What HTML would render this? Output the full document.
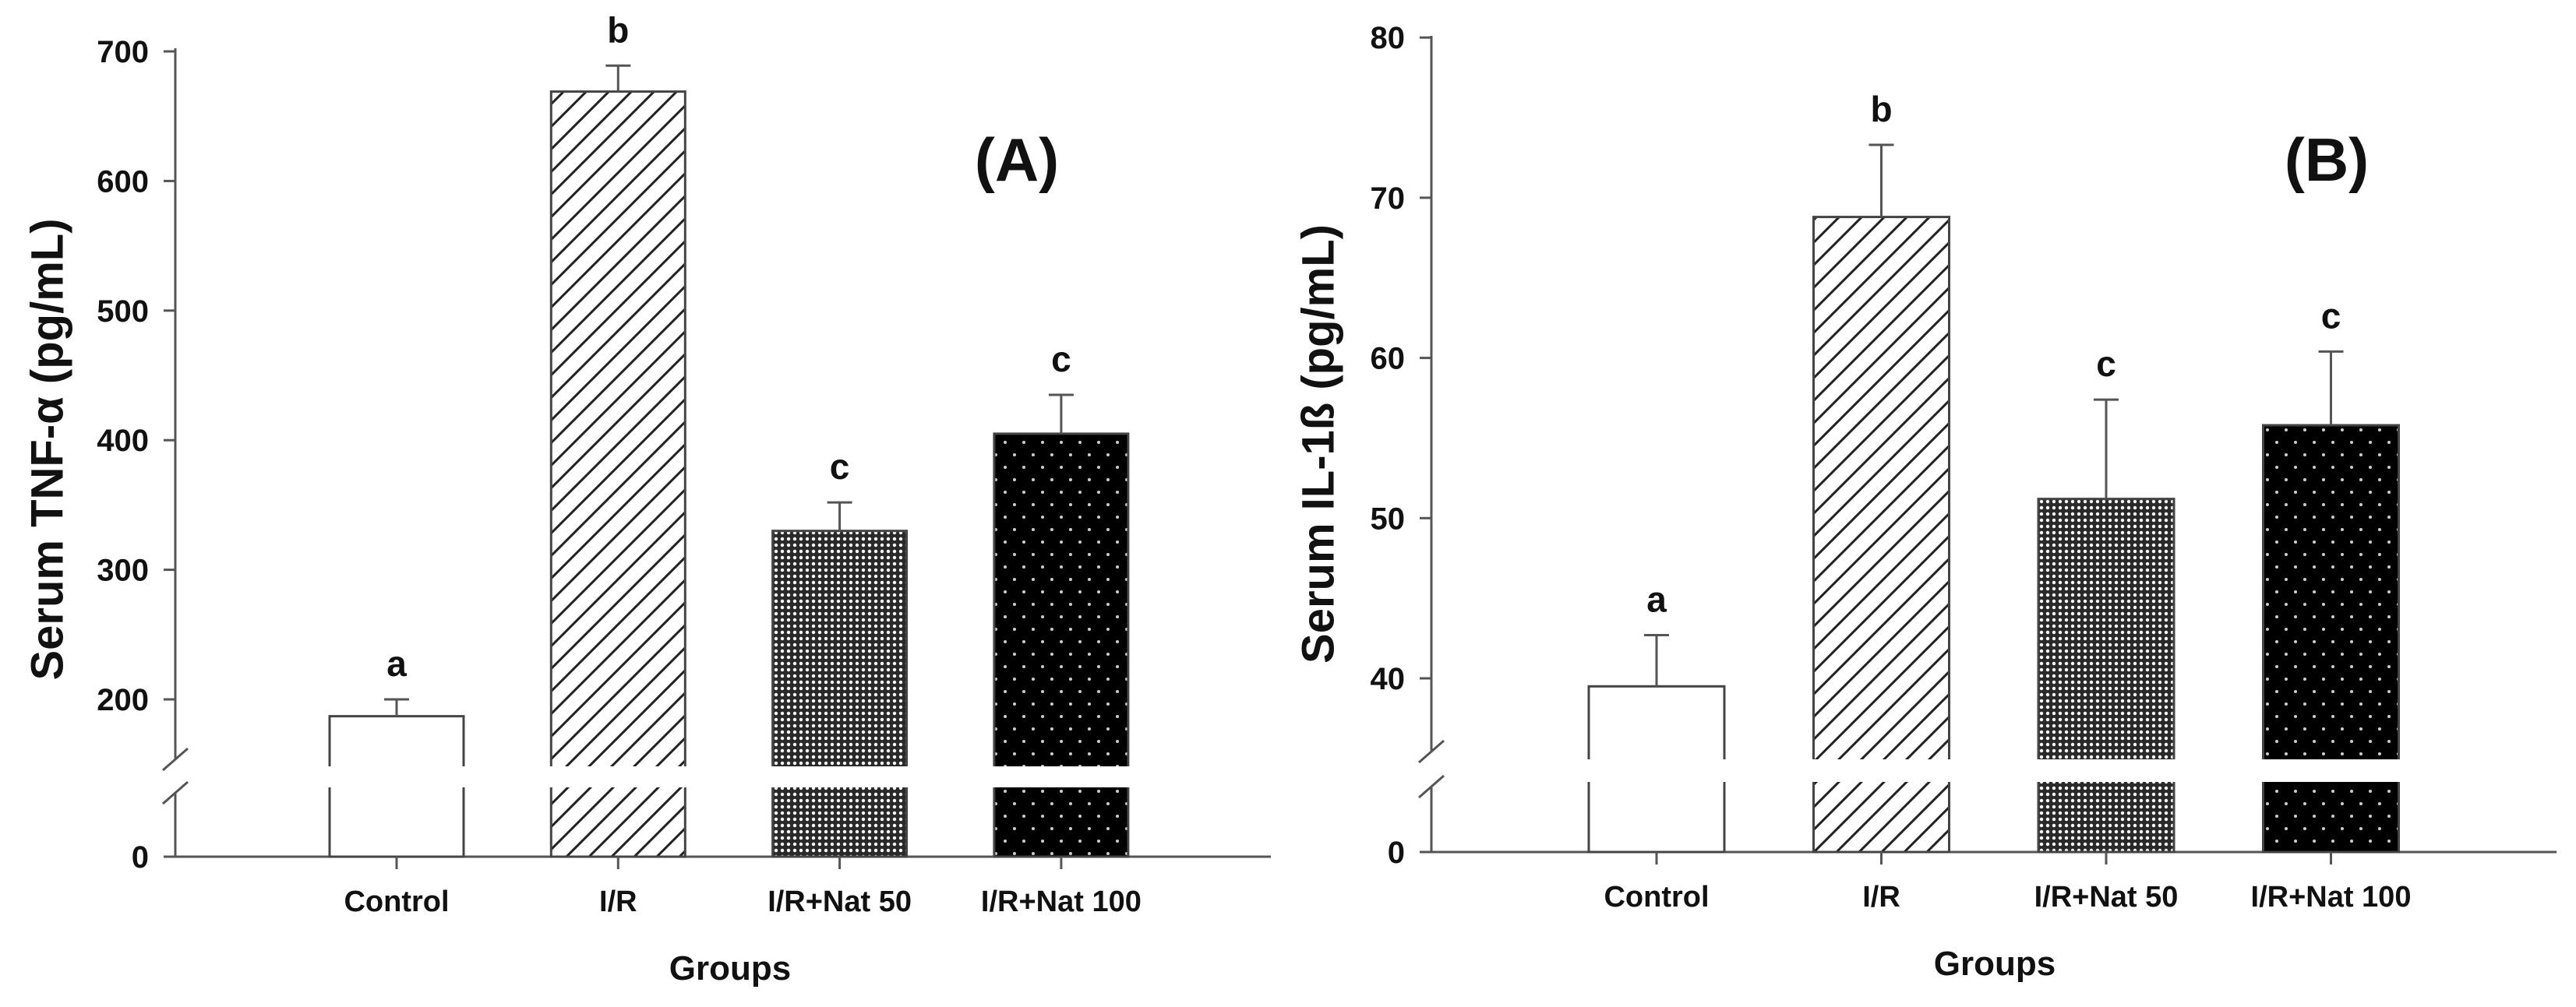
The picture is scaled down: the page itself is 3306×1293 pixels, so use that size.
<!DOCTYPE html>
<html><head><meta charset="utf-8">
<style>
html,body{margin:0;padding:0;background:#fff;}
svg{display:block;}
text{font-family:"Liberation Sans",sans-serif;fill:#111;}
</style></head>
<body>
<svg id="chart" width="3306" height="1293" viewBox="0 0 3306 1293" xmlns="http://www.w3.org/2000/svg">
<defs>
<pattern id="hatch" patternUnits="userSpaceOnUse" width="29" height="29">
<rect width="29" height="29" fill="#fff"/>
<path d="M-1,30 L30,-1 M-8,8 L8,-8 M21,37 L37,21" stroke="#222" stroke-width="3"/>
</pattern>
<pattern id="cross" patternUnits="userSpaceOnUse" width="8" height="8">
<rect width="8" height="8" fill="#2a2a2a"/>
<circle cx="4" cy="4" r="2.2" fill="#fff"/>
</pattern>
<pattern id="dots" patternUnits="userSpaceOnUse" width="24" height="32">
<rect width="24" height="32" fill="#000"/>
<circle cx="6" cy="8" r="2" fill="#ccc"/>
<circle cx="18" cy="24" r="2" fill="#ccc"/>
</pattern>
</defs>
<g id="panelA"></g>
<g id="panelB"></g>
</svg>
<script>
const categories = ["Control", "I/R", "I/R+Nat 50", "I/R+Nat 100"];
const tnfValues = [187, 669, 330, 405];
const tnfErrors = [13, 20, 22, 30];
const tnfLetters = ["a", "b", "c", "c"];
const tnfTicks = [200, 300, 400, 500, 600, 700];
const ilValues = [39.5, 68.8, 51.2, 55.8];
const ilErrors = [3.2, 4.5, 6.2, 4.6];
const ilLetters = ["a", "b", "c", "c"];
const ilTicks = [40, 50, 60, 70, 80];
const fills = ["#fff", "url(#hatch)", "url(#cross)", "url(#dots)"];

const NS = "http://www.w3.org/2000/svg";
function mk(parent, tag, attrs, txt) {
  const e = document.createElementNS(NS, tag);
  for (const k in attrs) e.setAttribute(k, attrs[k]);
  if (txt !== undefined) e.textContent = txt;
  parent.appendChild(e);
  return e;
}

function drawPanel(g, cfg) {
  const y = v => cfg.refY - (v - cfg.refV) * cfg.ppu;
  const x = i => cfg.x0 + i * cfg.step;
  let el;
  el = mk(g, "line", {x1: cfg.axisX, y1: cfg.topY, x2: cfg.axisX, y2: cfg.baseY, stroke: "#555", "stroke-width": 3});
  
  
  el = mk(g, "line", {x1: cfg.axisX - 15, y1: cfg.baseY, x2: cfg.axisEnd, y2: cfg.baseY, stroke: "#555", "stroke-width": 3});
  
  
  const bg = mk(g, "g", {});
  
  
  mk(bg, "polygon", {points: `${cfg.axisX-16},${cfg.brk1+34} ${cfg.axisX+16},${cfg.brk1+6} ${cfg.axisX+16},${cfg.brk2-26} ${cfg.axisX-16},${cfg.brk2+2}`, fill: "#fff"});
  mk(bg, "line", {x1: cfg.axisX-16, y1: cfg.brk1+34, x2: cfg.axisX+16, y2: cfg.brk1+6, stroke: "#555", "stroke-width": 3});
  mk(bg, "line", {x1: cfg.axisX-16, y1: cfg.brk2+2, x2: cfg.axisX+16, y2: cfg.brk2-26, stroke: "#555", "stroke-width": 3});
  const allTicks = [0].concat(cfg.ticks);
  allTicks.forEach(t => {
    const ty = t === 0 ? cfg.baseY : y(t);
    el = mk(g, "line", {x1: cfg.axisX - 15, y1: ty, x2: cfg.axisX, y2: ty, stroke: "#555", "stroke-width": 3});
    
    
    el = mk(g, "text", {x: cfg.axisX - 34, y: ty + 14, "text-anchor": "end", "font-size": 40, "font-weight": "bold"}, String(t));
    
    
  });
  categories.forEach((c, i) => {
    const cx = x(i), w = cfg.barW, top = y(cfg.values[i]);
    const bar = mk(g, "g", {});
    
    
    mk(bar, "rect", {x: cx - w/2, y: top, width: w, height: cfg.baseY - top, fill: fills[i], stroke: "#444", "stroke-width": 3});
    mk(bar, "rect", {x: cx - w/2 - 3, y: cfg.gap1, width: w + 6, height: cfg.gap2 - cfg.gap1, fill: "#fff"});
    const et = y(cfg.values[i] + cfg.errors[i]);
    el = mk(g, "path", {d: `M${cx},${top} V${et} M${cx-16},${et} H${cx+16}`, stroke: "#555", "stroke-width": 3, fill: "none"});
    
    
    el = mk(g, "text", {x: cx, y: et - 30, "text-anchor": "middle", "font-size": 46, "font-weight": "bold"}, cfg.letters[i]);
    
    
    el = mk(g, "line", {x1: cx, y1: cfg.baseY, x2: cx, y2: cfg.baseY + 16, stroke: "#555", "stroke-width": 3});
    
    
    el = mk(g, "text", {x: cx, y: cfg.baseY + 70, "text-anchor": "middle", "font-size": 38, "font-weight": "bold"}, c);
    
    
  });
  el = mk(g, "text", {x: cfg.groupsX, y: cfg.baseY + 158, "text-anchor": "middle", "font-size": 44, "font-weight": "bold", fill: "#222"}, "Groups");
  
  
  el = mk(g, "text", {x: cfg.titleX, y: cfg.titleY, "text-anchor": "middle", "dominant-baseline": "central", "font-size": 58, "font-weight": "bold", transform: `rotate(-90 ${cfg.titleX} ${cfg.titleY})`}, cfg.yTitle);
  
  
  el = mk(g, "text", {x: cfg.panelX, y: cfg.panelY, "text-anchor": "middle", "font-size": 78, "font-weight": "bold"}, cfg.panelLabel);
  
  
}

drawPanel(document.getElementById("panelA"), {
  values: tnfValues, errors: tnfErrors, letters: tnfLetters, ticks: tnfTicks,
  refV: 200, refY: 898, ppu: 1.664, baseY: 1100, topY: 62,
  axisX: 225, axisEnd: 1631, x0: 509, step: 284.3, barW: 172,
  gap1: 984, gap2: 1011, brk1: 955, brk2: 1030,
  groupsX: 937, titleX: 61, titleY: 577, yTitle: "Serum TNF-α (pg/mL)",
  panelX: 1305, panelY: 232, panelLabel: "(A)"
});
drawPanel(document.getElementById("panelB"), {
  values: ilValues, errors: ilErrors, letters: ilLetters, ticks: ilTicks,
  refV: 40, refY: 871, ppu: 20.57, baseY: 1094, topY: 46,
  axisX: 1837, axisEnd: 3281, x0: 2126, step: 288.5, barW: 174,
  gap1: 975, gap2: 1004, brk1: 945, brk2: 1022,
  groupsX: 2560, titleX: 1692, titleY: 570, yTitle: "Serum IL-1ß (pg/mL)",
  panelX: 2986, panelY: 232, panelLabel: "(B)"
});
</script>
</body></html>
